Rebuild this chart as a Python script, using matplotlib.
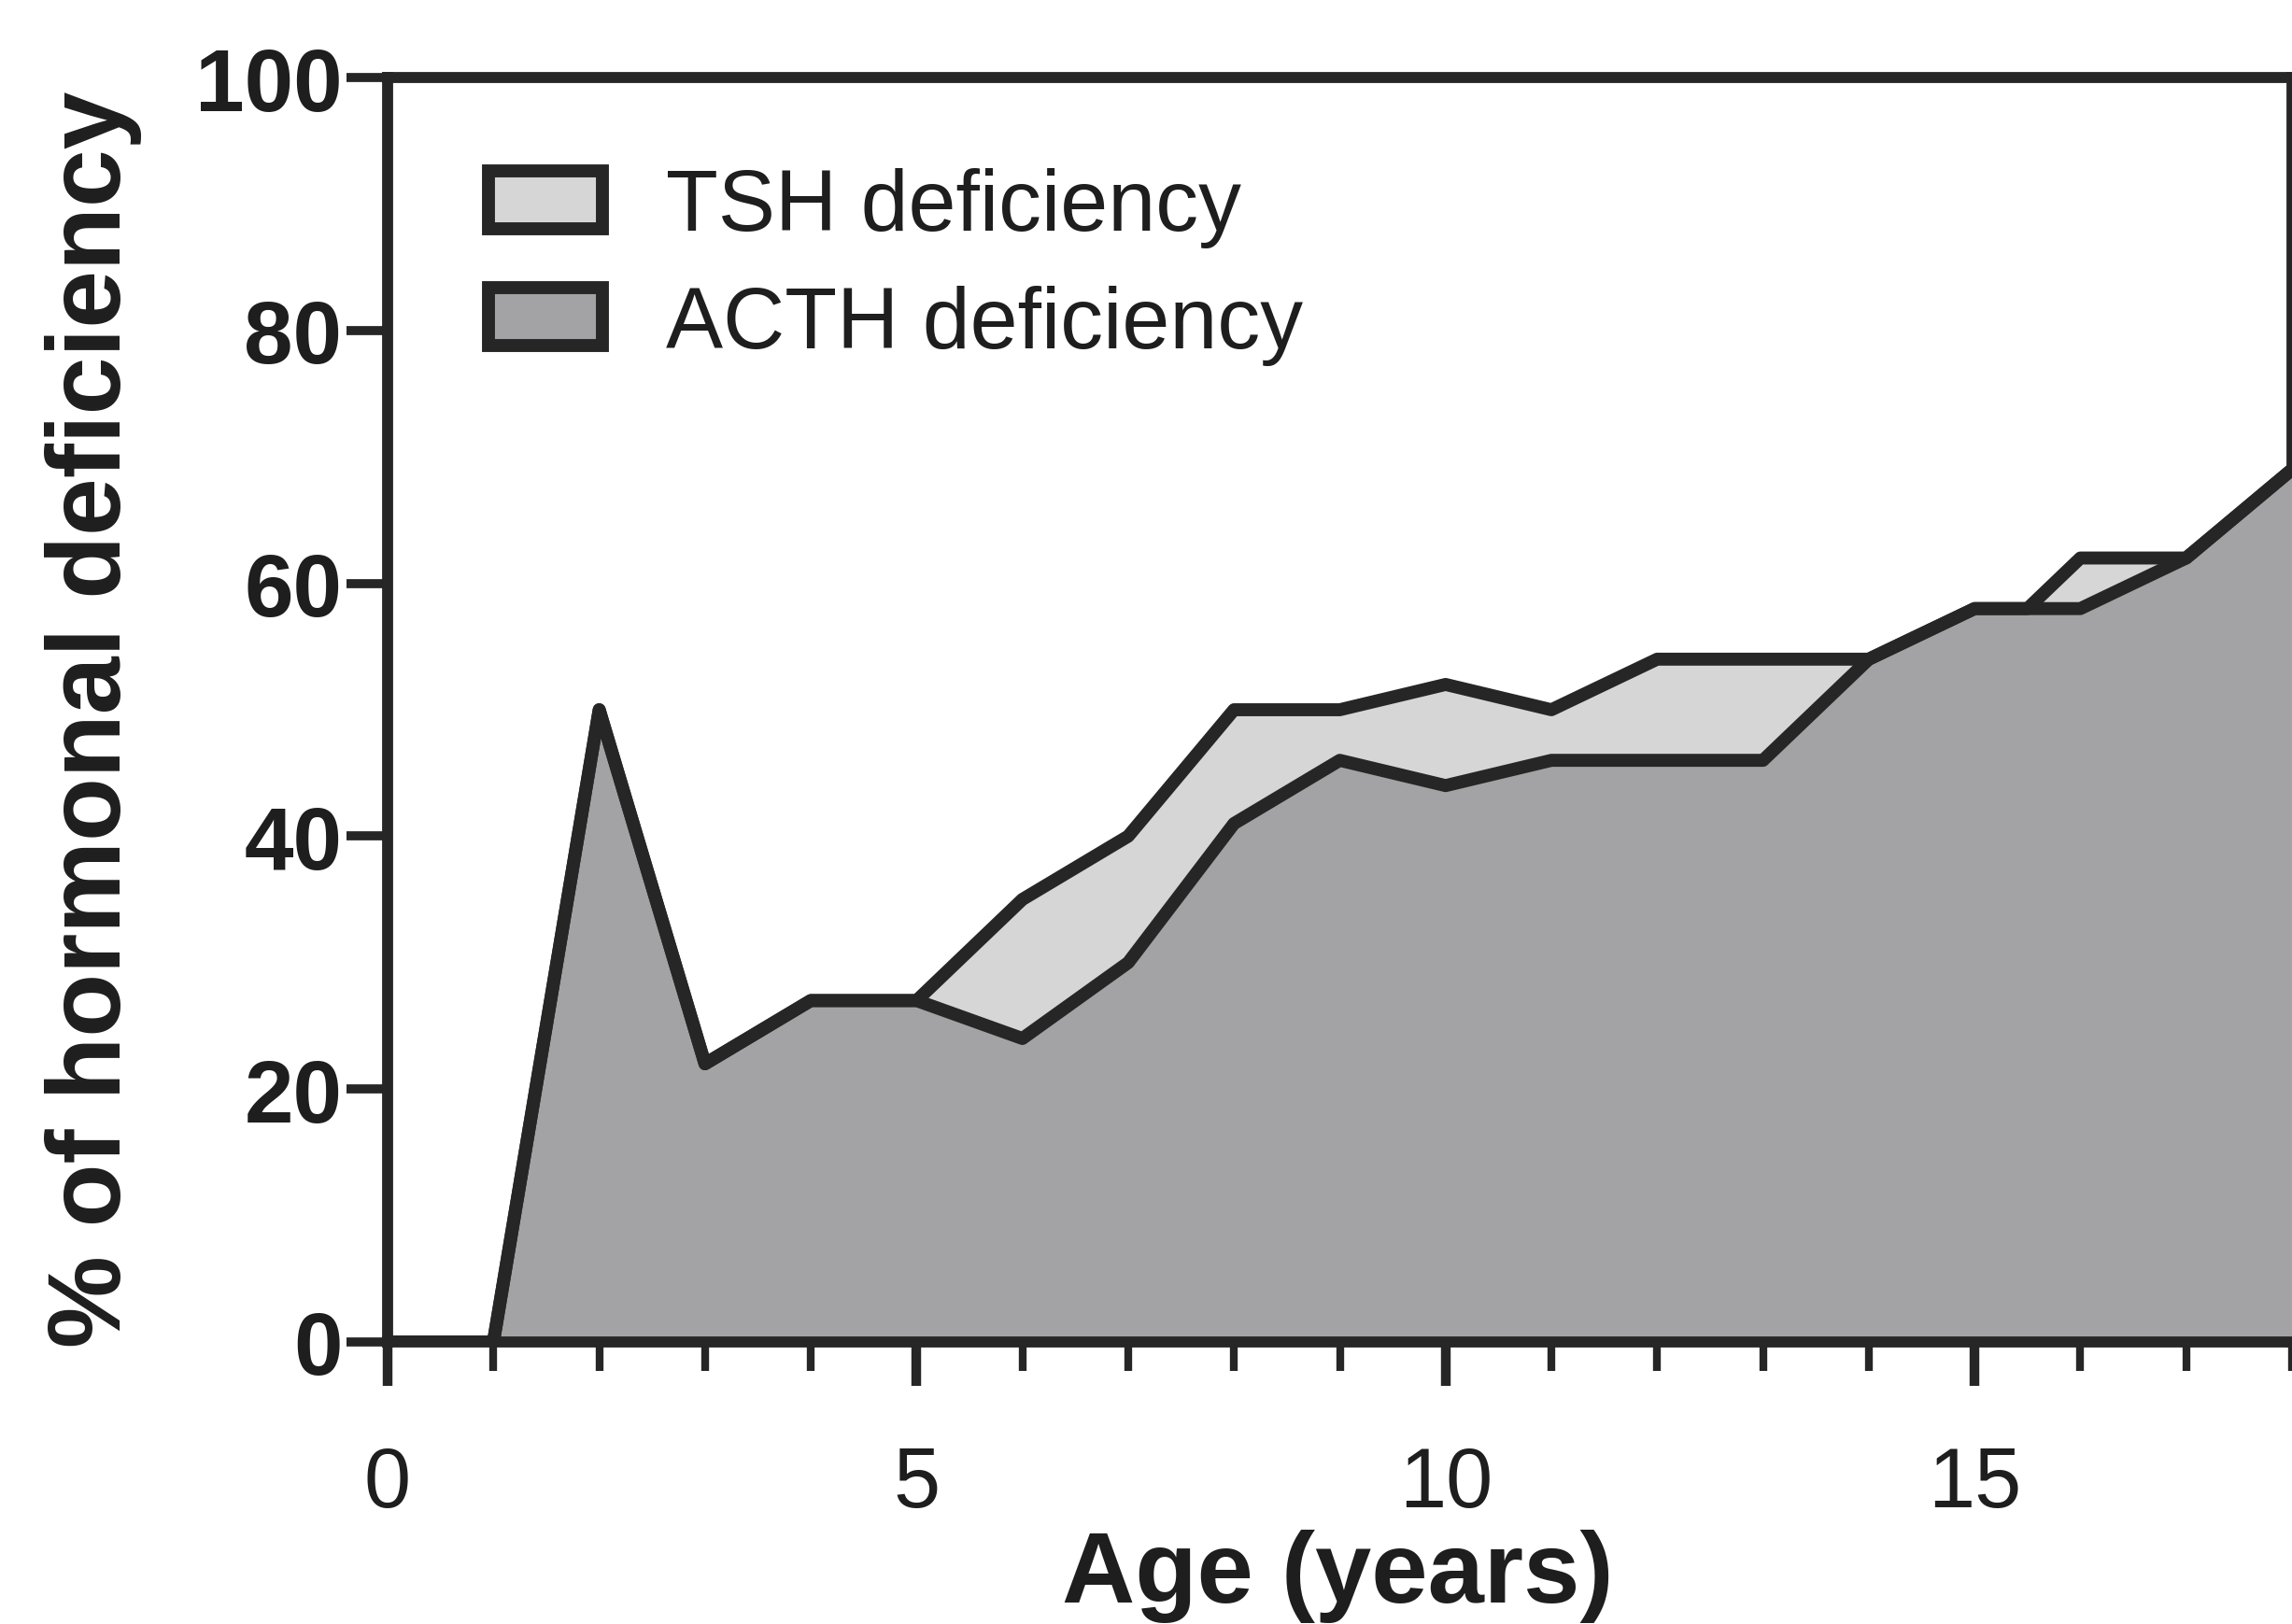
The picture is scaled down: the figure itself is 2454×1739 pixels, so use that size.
import numpy as np
import matplotlib.pyplot as plt
from matplotlib.patches import Patch

plt.rcParams['font.family'] = ['Liberation Sans', 'DejaVu Sans']

# ages (years) and cumulative % of deficiency
acth_age = [0, 1, 2, 3, 4, 5, 6, 7, 8, 9, 10, 11, 12, 13, 14, 15, 16, 17, 18]
acth_pct = [0, 0, 50, 22, 27, 27, 24, 30, 41, 46, 44, 46, 46, 46, 54, 58, 58, 62, 69]

tsh_age = [0, 1, 2, 3, 4, 5, 6, 7, 8, 9, 10, 11, 12, 13, 14, 15, 15.5, 16, 17, 18]
tsh_pct = [0, 0, 50, 22, 27, 27, 35, 40, 50, 50, 52, 50, 54, 54, 54, 58, 58, 62, 62, 69]

labels = ['TSH deficiency', 'ACTH deficiency']

ink = '#262626'
tsh_col = '#d6d6d6'
acth_col = '#a3a3a5'

W, H = 2454, 1740
fig = plt.figure(figsize=(W / 100, H / 100), dpi=100)
ax = fig.add_axes([415 / W, 1 - 1438 / H, (W - 415) / W, (1438 - 84) / H])

ax.fill_between(tsh_age, 0, tsh_pct, color=tsh_col, lw=0, zorder=1)
ax.fill_between(acth_age, 0, acth_pct, color=acth_col, lw=0, zorder=1.1)
ax.plot(tsh_age, tsh_pct, color=ink, lw=10, solid_joinstyle='round', zorder=2)
ax.plot(acth_age, acth_pct, color=ink, lw=10, solid_joinstyle='round', zorder=2.1)

ax.set_xlim(0, 18)
ax.set_ylim(0, 100)

for s in ax.spines.values():
    s.set_linewidth(8.5)
    s.set_color(ink)
ax.spines['right'].set_zorder(0.5)

ax.set_yticks([0, 20, 40, 60, 80, 100])
ax.set_xticks([0, 5, 10, 15])
ax.set_xticks(np.arange(0, 19, 1), minor=True)
ax.tick_params(axis='y', direction='out', length=32, width=7, color=ink,
               labelsize=68, pad=3, labelcolor='#1e1e1e')
for t in ax.get_yticklabels():
    t.set_fontweight('bold')
ax.tick_params(axis='x', which='major', direction='out', length=34, width=7.5,
               color=ink, labelsize=65, pad=45, labelcolor='#1e1e1e')
ax.tick_params(axis='x', which='minor', direction='out', length=22, width=6,
               color=ink)

fig.text(1432 / W, 1 - 1688 / H, 'Age (years)', ha='center', va='center',
         fontsize=78, fontweight='bold', color='#1e1e1e')
fig.text(100 / W, 1 - 770 / H, '% of hormonal deficiency', ha='center',
         va='center', rotation=90, fontsize=80, fontweight='bold', color='#1e1e1e')

handles = [Patch(facecolor=tsh_col, edgecolor=ink, linewidth=10),
           Patch(facecolor=acth_col, edgecolor=ink, linewidth=10)]
ax.legend(handles, labels, loc='upper left', bbox_to_anchor=(0.053, 0.929),
          frameon=False, fontsize=66, handlelength=1.33, handleheight=0.66,
          handletextpad=0.74, labelspacing=0.43, borderpad=0, borderaxespad=0,
          labelcolor='#1e1e1e')

fig.savefig('out.png', dpi=100)
